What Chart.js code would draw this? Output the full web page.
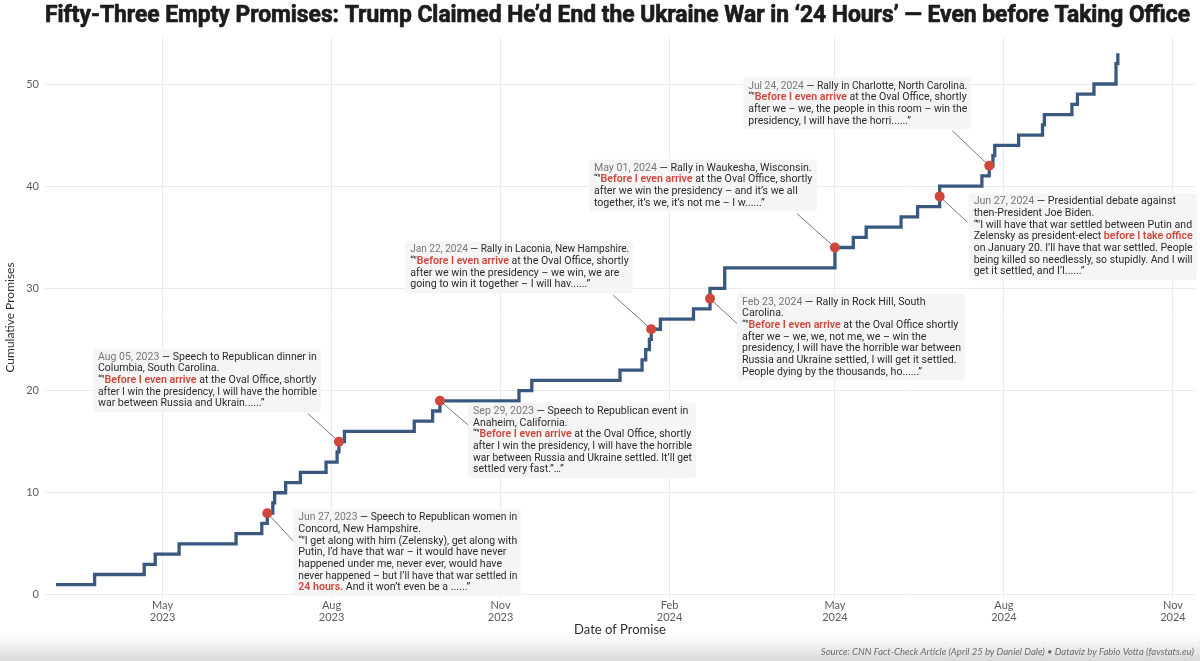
<!DOCTYPE html>
<html><head><meta charset="utf-8">
<script src="https://cdn.jsdelivr.net/npm/chart.js@4.4.1/dist/chart.umd.min.js"></script>
<style>
html,body{margin:0;padding:0;width:1200px;height:661px;overflow:hidden;}
body{background:linear-gradient(to bottom,#ffffff 0px,#ffffff 634px,#f1f1f1 646px,#d8d8d8 661px);}
canvas{display:block;}
</style></head><body>
<canvas id="c" width="1200" height="661" style="width:1200px;height:661px"></canvas>
<script>
const TITLE = 'Fifty-Three Empty Promises: Trump Claimed He’d End the Ukraine War in ‘24 Hours’ — Even before Taking Office';
const SOURCE = 'Source: CNN Fact-Check Article (April 25 by Daniel Dale) • Dataviz by Fabio Votta (favstats.eu)';
const X_TITLE = 'Date of Promise';
const Y_TITLE = 'Cumulative Promises';

const promiseDates = [
  '2023-03-04','2023-03-25','2023-04-21','2023-04-27','2023-05-10','2023-06-10','2023-06-24','2023-06-27',
  '2023-06-30','2023-07-01','2023-07-07','2023-07-15','2023-07-29','2023-08-04','2023-08-05','2023-08-08',
  '2023-09-15','2023-09-25','2023-09-29','2023-11-11','2023-11-18','2024-01-05','2024-01-17','2024-01-19',
  '2024-01-21','2024-01-22','2024-01-27','2024-02-14','2024-02-23','2024-02-23','2024-03-02','2024-03-02',
  '2024-05-01','2024-05-01','2024-05-11','2024-05-18','2024-06-06','2024-06-15','2024-06-27','2024-06-27',
  '2024-07-20','2024-07-24','2024-07-26','2024-07-27','2024-08-09','2024-08-22','2024-08-23','2024-09-07',
  '2024-09-10','2024-09-19','2024-10-01','2024-10-01','2024-10-02'
];
const cumulativePromises = [
  1,2,3,4,5,6,7,8,9,10,11,12,13,14,15,16,17,18,19,20,21,22,23,24,25,26,27,
  28,29,30,31,32,33,34,35,36,37,38,39,40,41,42,43,44,45,46,47,48,49,50,51,52,53
];
const highlightDates = ['2023-06-27','2023-08-05','2023-09-29','2024-01-22','2024-02-23','2024-05-01','2024-06-27','2024-07-24'];
const highlightValues = [8,15,19,26,29,34,39,42];

const xTickDates = ['2023-05-01','2023-08-01','2023-11-01','2024-02-01','2024-05-01','2024-08-01','2024-11-01'];
const xTickLabels = [['May','2023'],['Aug','2023'],['Nov','2023'],['Feb','2024'],['May','2024'],['Aug','2024'],['Nov','2024']];
const yTickValues = [0,10,20,30,40,50];
const xRange = ['2023-02-26','2024-11-13'];
const yRange = [-0.3, 54.6];

const annotationLines = [
  ['Jun 27, 2023 — Speech to Republican women in','Concord, New Hampshire.','“"I get along with him (Zelensky), get along with','Putin, I’d have that war – it would have never','happened under me, never ever, would have','never happened – but I’ll have that war settled in','**24 hours.** And it won’t even be a ......”'],
  ['Aug 05, 2023 — Speech to Republican dinner in','Columbia, South Carolina.','“"**Before I even arrive** at the Oval Office, shortly','after I win the presidency, I will have the horrible','war between Russia and Ukrain......”'],
  ['Sep 29, 2023 — Speech to Republican event in','Anaheim, California.','“"**Before I even arrive** at the Oval Office, shortly','after I win the presidency, I will have the horrible','war between Russia and Ukraine settled. It’ll get','settled very fast.”…”'],
  ['Jan 22, 2024 — Rally in Laconia, New Hampshire.','“"**Before I even arrive** at the Oval Office, shortly','after we win the presidency – we win, we are','going to win it together – I will hav......”'],
  ['Feb 23, 2024 — Rally in Rock Hill, South','Carolina.','“"**Before I even arrive** at the Oval Office shortly','after we – we, we, not me, we – win the','presidency, I will have the horrible war between','Russia and Ukraine settled, I will get it settled.','People dying by the thousands, ho......”'],
  ['May 01, 2024 — Rally in Waukesha, Wisconsin.','“"**Before I even arrive** at the Oval Office, shortly','after we win the presidency – and it’s we all','together, it’s we, it’s not me – I w......”'],
  ['Jun 27, 2024 — Presidential debate against','then-President Joe Biden.','“"I will have that war settled between Putin and','Zelensky as president-elect **before I take office**','on January 20. I’ll have that war settled. People','being killed so needlessly, so stupidly. And I will','get it settled, and I’l......”'],
  ['Jul 24, 2024 — Rally in Charlotte, North Carolina.','“"**Before I even arrive** at the Oval Office, shortly','after we – we, the people in this room – win the','presidency, I will have the horri......”']
];

// label box placement relative to its marker (pixels) and connector end
const labelLayout = [
  {dx:26, dy:-4, cx:28, cy:30},
  {dx:-246, dy:-93, cx:-31, cy:-28},
  {dx:28, dy:2, cx:28, cy:24},
  {dx:-246, dy:-88, cx:-38, cy:-34},
  {dx:27, dy:-5, cx:27, cy:25},
  {dx:-246, dy:-88, cx:-38, cy:-34},
  {dx:29, dy:-3, cx:28, cy:26},
  {dx:-246, dy:-88, cx:-37, cy:-35}
];

const LINE_COLOR = '#395880';
const RED = '#cf463b';
const TXT = '#2b2b2b';
const DATE_TXT = '#777777';
const BOX_W = 228, LINE_H = 11.67, BOX_PAD_T = 8.4, BOX_PAD_L = 5;
const ANN_FONT = 10.6;
const ANN_FAMILY = 'Roboto';

function drawRichLine(ctx, line, x, y, first, maxW) {
  const segs = [];
  if (first) {
    const k = line.indexOf(' — ');
    segs.push({t: line.slice(0, k), s: 'date'});
    line = line.slice(k);
  }
  line.split('**').forEach((p, i) => { if (p) segs.push({t: p, s: i % 2 ? 'red' : 'norm'}); });
  const fontFor = s => (s === 'red' ? '600 ' : '') + ANN_FONT + 'px ' + ANN_FAMILY;
  let total = 0;
  for (const sg of segs) { ctx.font = fontFor(sg.s); total += ctx.measureText(sg.t).width; }
  const sc = total > maxW ? maxW / total : 1;
  ctx.save();
  ctx.translate(x, y);
  ctx.scale(sc, 1);
  let cx = 0;
  for (const sg of segs) {
    ctx.font = fontFor(sg.s);
    ctx.fillStyle = sg.s === 'red' ? RED : (sg.s === 'date' ? DATE_TXT : TXT);
    ctx.fillText(sg.t, cx, 0);
    cx += ctx.measureText(sg.t).width;
  }
  ctx.restore();
}

const annotationPlugin = {
  id: 'annotations',
  beforeDatasetsDraw(chart) {
    const {ctx} = chart;
    const xs = chart.scales.x, ys = chart.scales.y;
    ctx.save();
    ctx.strokeStyle = '#555';
    ctx.lineWidth = 0.8;
    highlightDates.forEach((d, i) => {
      const px = xs.getPixelForValue(Date.parse(d));
      const py = ys.getPixelForValue(highlightValues[i]);
      const L = labelLayout[i];
      ctx.beginPath();
      ctx.moveTo(px, py);
      ctx.lineTo(px + L.cx, py + L.cy);
      ctx.stroke();
    });
    ctx.restore();
  },
  afterDatasetsDraw(chart) {
    const {ctx} = chart;
    const xs = chart.scales.x, ys = chart.scales.y;
    ctx.save();
    highlightDates.forEach((d, i) => {
      const px = xs.getPixelForValue(Date.parse(d));
      const py = ys.getPixelForValue(highlightValues[i]);
      const L = labelLayout[i];
      const lines = annotationLines[i];
      const bx = px + L.dx, by = py + L.dy;
      const bh = (lines.length - 1) * LINE_H + 2 * BOX_PAD_T;
      ctx.fillStyle = 'rgba(245,245,245,0.97)';
      ctx.beginPath();
      ctx.roundRect(bx, by, BOX_W, bh, 4);
      ctx.fill();
      ctx.textBaseline = 'middle';
      ctx.textAlign = 'left';
      lines.forEach((ln, j) => drawRichLine(ctx, ln, bx + BOX_PAD_L, by + BOX_PAD_T + j * LINE_H, j === 0, BOX_W - 2 * BOX_PAD_L + 1));
    });
    ctx.restore();
  },
  afterDraw(chart) {
    const {ctx} = chart;
    ctx.save();
    ctx.font = 'bold 24px Roboto';
    ctx.fillStyle = '#1c1c1c';
    ctx.strokeStyle = '#1c1c1c';
    ctx.lineWidth = 0.7;
    ctx.lineJoin = 'round';
    ctx.textBaseline = 'middle';
    ctx.textAlign = 'left';
    const w = ctx.measureText(TITLE).width;
    const target = 1145;
    const s = Math.min(1, target / w);
    ctx.translate(617.5 - target / 2, 16);
    ctx.scale(s, 1);
    ctx.fillText(TITLE, 0, 0);
    ctx.strokeText(TITLE, 0, 0);
    ctx.restore();
    ctx.save();
    ctx.font = 'italic 9.5px Lato';
    ctx.fillStyle = '#6a6a6a';
    ctx.textAlign = 'right';
    ctx.textBaseline = 'middle';
    ctx.fillText(SOURCE, 1194, 652);
    ctx.restore();
  }
};

new Chart(document.getElementById('c'), {
  type: 'line',
  data: {
    datasets: [
      {
        label: 'Highlighted',
        data: highlightDates.map((d, i) => ({x: Date.parse(d), y: highlightValues[i]})),
        showLine: false,
        pointRadius: 5,
        pointBackgroundColor: RED,
        pointBorderWidth: 0,
        order: 0
      },
      {
        label: 'Cumulative Promises',
        data: promiseDates.map((d, i) => ({x: Date.parse(d), y: cumulativePromises[i]})),
        stepped: 'before',
        borderColor: LINE_COLOR,
        borderWidth: 3.3,
        borderJoinStyle: 'miter',
        pointRadius: 0,
        fill: false,
        order: 1
      }
    ]
  },
  options: {
    responsive: false,
    animation: false,
    layout: {padding: {top: 37, right: 5, bottom: 15, left: 0}},
    plugins: {legend: {display: false}, tooltip: {enabled: false}, title: {display: false}},
    scales: {
      x: {
        type: 'linear',
        min: Date.parse(xRange[0]),
        max: Date.parse(xRange[1]),
        afterBuildTicks: (sc) => { sc.ticks = xTickDates.map(d => ({value: Date.parse(d)})); },
        afterFit: (sc) => { sc.height = 48; },
        ticks: {
          autoSkip: false, maxRotation: 0, padding: 1,
          color: '#5c5c5c', font: {family: 'Lato', size: 11, lineHeight: 1.1},
          callback: (v, i) => xTickLabels[i]
        },
        grid: {color: '#ebebeb', lineWidth: 1, drawTicks: false},
        border: {display: false},
        title: {display: true, text: X_TITLE, color: '#2e2e2e', font: {family: 'Lato', size: 13}, padding: {top: 0, bottom: 8}}
      },
      y: {
        type: 'linear',
        min: yRange[0],
        max: yRange[1],
        afterBuildTicks: (sc) => { sc.ticks = yTickValues.map(v => ({value: v})); },
        afterFit: (sc) => { sc.width = 45; },
        ticks: {padding: 6, color: '#5c5c5c', font: {family: 'Lato', size: 11}},
        grid: {color: '#ebebeb', lineWidth: 1, drawTicks: false},
        border: {display: false},
        title: {display: true, text: Y_TITLE, color: '#2e2e2e', font: {family: 'Lato', size: 12}, padding: {top: 3, bottom: 0}}
      }
    }
  },
  plugins: [annotationPlugin]
});
</script></body></html>
